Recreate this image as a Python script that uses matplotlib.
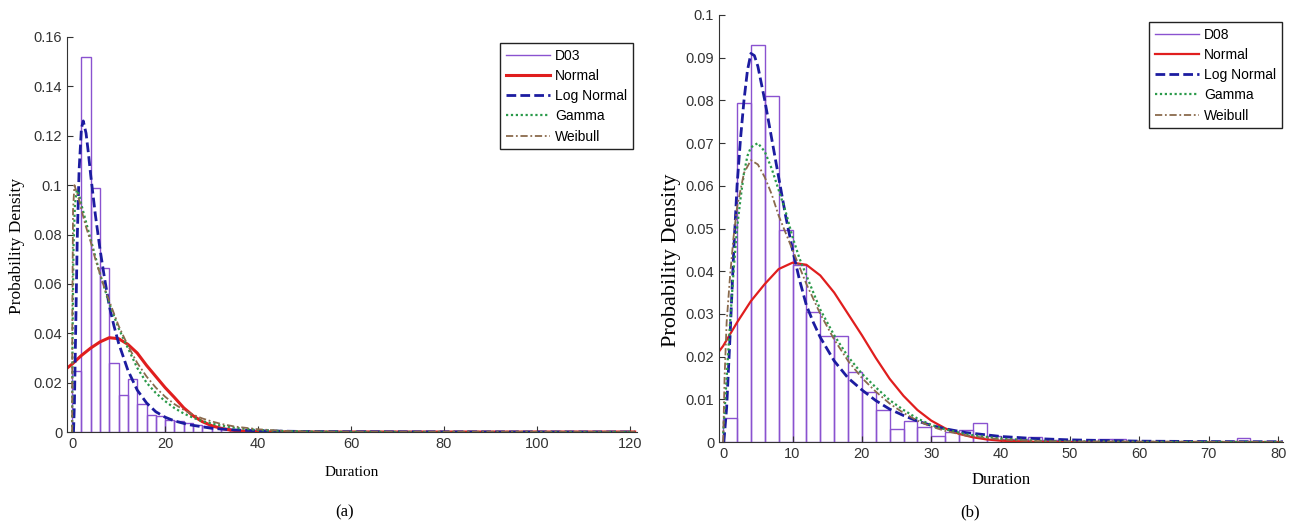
import numpy as np
import matplotlib
matplotlib.use("Agg")
import matplotlib.pyplot as plt

# ---- panel (a) : D03 ----
bin_w = 2.0
hist_a = [0.0247, 0.1518, 0.0987, 0.0663, 0.0278, 0.0150, 0.0215, 0.0112, 0.0070, 0.0066,
          0.0050, 0.0045, 0.0038, 0.0030, 0.0025, 0.0020, 0.0017, 0.0012, 0.0010, 0.0008,
          0.0005, 0.0004, 0.0004, 0.0003, 0.0003, 0.0002, 0.0002, 0.0002, 0.0001, 0.0001,
          0.0001, 0.0005, 0.0005, 0.0001, 0.0001, 0.0001, 0.0, 0.0001, 0.0, 0.0,
          0.0001, 0.0, 0.0, 0.0, 0.0001, 0.0, 0.0, 0.0, 0.0, 0.0001,
          0.0, 0.0, 0.0, 0.0, 0.0, 0.0, 0.0, 0.0, 0.0, 0.0001]

norm_a_x = [-1, 0, 2, 4, 6, 8, 10, 12, 14, 16, 18, 20, 22, 24, 26, 28, 30, 32, 34, 36, 40, 45, 121]
norm_a_y = [0.026, 0.0275, 0.031, 0.034, 0.0365, 0.0382, 0.0378, 0.0355, 0.032, 0.027, 0.0225,
            0.018, 0.014, 0.0098, 0.0066, 0.0042, 0.0026, 0.0015, 0.0008, 0.0004, 0.0001, 0.0, 0.0]

logn_a_x = [0.3, 0.5, 0.8, 1.1, 1.5, 2.0, 2.4, 3.0, 3.5, 4, 5, 6, 7, 8, 9, 10, 12, 14, 16, 18,
            20, 22, 25, 30, 35, 40, 50, 60, 80, 121]
logn_a_y = [0.0, 0.012, 0.045, 0.078, 0.106, 0.123, 0.126, 0.121, 0.113, 0.104, 0.088, 0.074,
            0.062, 0.051, 0.043, 0.036, 0.025, 0.017, 0.0118, 0.0082, 0.006, 0.0045, 0.003,
            0.0015, 0.0008, 0.0005, 0.0002, 0.0001, 0.00005, 0.0]

gam_a_x = [0.0, 0.1, 0.3, 0.6, 1.0, 1.5, 2, 3, 4, 5, 6, 7, 8, 9, 10, 12, 14, 16, 18, 20, 22,
           24, 26, 28, 30, 32, 35, 40, 45, 50, 60, 121]
gam_a_y = [0.0, 0.04, 0.075, 0.092, 0.098, 0.096, 0.092, 0.085, 0.078, 0.071, 0.064, 0.058,
           0.052, 0.047, 0.042, 0.034, 0.026, 0.020, 0.0158, 0.0125, 0.0097, 0.0075, 0.0058,
           0.0044, 0.0034, 0.0026, 0.0017, 0.0008, 0.0004, 0.0002, 0.00005, 0.0]

wei_a_x = [0.0, 0.05, 0.2, 0.5, 1.0, 1.5, 2, 3, 4, 5, 6, 7, 8, 9, 10, 12, 14, 16, 18, 20, 22,
           24, 26, 28, 30, 32, 35, 40, 45, 50, 60, 121]
wei_a_y = [0.0, 0.05, 0.09, 0.1, 0.097, 0.094, 0.090, 0.083, 0.077, 0.070, 0.064, 0.058,
           0.053, 0.048, 0.043, 0.035, 0.028, 0.0225, 0.018, 0.0143, 0.0113, 0.009, 0.007,
           0.0055, 0.0043, 0.0033, 0.0022, 0.0011, 0.0005, 0.0002, 0.00005, 0.0]

# ---- panel (b) : D08 ----
hist_b = [0.0057, 0.0795, 0.0930, 0.0810, 0.0496, 0.0415, 0.0304, 0.0249, 0.0249, 0.0165,
          0.0118, 0.0076, 0.0030, 0.0049, 0.0035, 0.0013, 0.0024, 0.0028, 0.0044, 0.0015,
          0.0008, 0.0006, 0.0012, 0.0005, 0.0004, 0.0003, 0.0003, 0.0006, 0.0007, 0.0002,
          0.0001, 0.0001, 0.0001, 0.0001, 0.0001, 0.0001, 0.0001, 0.0009, 0.0, 0.0]

norm_b_x = [-0.6, 0, 2, 4, 6, 8, 10, 12, 14, 16, 18, 20, 22, 24, 26, 28, 30, 32, 34, 36, 38,
            40, 45, 50, 81]
norm_b_y = [0.0212, 0.0225, 0.028, 0.033, 0.037, 0.0405, 0.042, 0.0415, 0.039, 0.035, 0.030,
            0.025, 0.0197, 0.0148, 0.0108, 0.0075, 0.005, 0.0032, 0.0019, 0.0011, 0.0006,
            0.0003, 0.00005, 0.0, 0.0]

logn_b_x = [0.1, 0.5, 1.0, 1.5, 2.0, 2.5, 3.0, 3.5, 4.0, 4.5, 5, 6, 7, 8, 9, 10, 11, 12, 13,
            14, 16, 18, 20, 22, 24, 26, 28, 30, 32, 35, 40, 45, 50, 60, 70, 81]
logn_b_y = [0.0, 0.008, 0.025, 0.044, 0.060, 0.071, 0.080, 0.087, 0.091, 0.0905, 0.088,
            0.080, 0.071, 0.062, 0.053, 0.045, 0.038, 0.032, 0.028, 0.0245, 0.019, 0.015,
            0.0122, 0.0097, 0.0077, 0.0062, 0.0049, 0.0039, 0.0031, 0.0022, 0.0013, 0.0008,
            0.0005, 0.0002, 0.0001, 0.00005]

gam_b_x = [0.0, 0.5, 1, 1.5, 2, 2.5, 3, 3.5, 4, 5, 6, 7, 8, 9, 10, 11, 12, 14, 16, 18, 20,
           22, 24, 26, 28, 30, 32, 35, 40, 45, 50, 60, 81]
gam_b_y = [0.002, 0.015, 0.028, 0.040, 0.050, 0.057, 0.063, 0.067, 0.069, 0.070, 0.068,
           0.064, 0.059, 0.054, 0.048, 0.043, 0.039, 0.031, 0.025, 0.020, 0.016, 0.0128,
           0.0098, 0.0075, 0.0055, 0.004, 0.003, 0.0018, 0.0008, 0.0003, 0.00015, 0.00003, 0.0]

wei_b_x = [0.0, 0.2, 0.5, 1, 1.5, 2, 3, 4, 5, 6, 7, 8, 9, 10, 11, 12, 14, 16, 18, 20, 22, 24,
           26, 28, 30, 32, 35, 40, 45, 50, 81]
wei_b_y = [0.0, 0.015, 0.028, 0.039, 0.048, 0.055, 0.063, 0.066, 0.065, 0.062, 0.058, 0.053,
           0.049, 0.045, 0.041, 0.037, 0.030, 0.024, 0.019, 0.015, 0.0118, 0.009, 0.0068,
           0.005, 0.0036, 0.0026, 0.0015, 0.0006, 0.0002, 0.0001, 0.0]

purple = "#8a52d0"
c_norm = "#e01e1e"
c_logn = "#1c1ca0"
c_gam = "#2a9a4a"
c_wei = "#8a6a4c"

plt.rcParams["font.family"] = ["Liberation Sans", "DejaVu Sans"]

fig = plt.figure(figsize=(12.93, 5.27), dpi=100)
W, H = 1293.0, 527.0


def make_axes(l, r, t, b):
    return fig.add_axes([l / W, (H - b) / H, (r - l) / W, (b - t) / H])


def draw_panel(ax, hist, name, curves, xlim, ylim, xticks, yticks, ylabels,
               red_lw, xlab_pos, ylab_pos, ylab_size, xlab_size, leg_pos):
    edges = np.arange(len(hist)) * bin_w
    ax.bar(edges, hist, width=bin_w, align="edge", fill=False,
           edgecolor=purple, linewidth=1.0)
    ax.plot([], [], color=purple, lw=1.0, label=name)
    (nx, ny), (lx, ly), (gx, gy), (wx, wy) = curves
    ax.plot(nx, ny, color=c_norm, lw=red_lw, label="Normal")
    ax.plot(lx, ly, color=c_logn, lw=2.0, ls=(0, (3.5, 1.5)), label="Log Normal")
    ax.plot(gx, gy, color=c_gam, lw=1.6, ls=(0, (1, 1.2)), label="Gamma")
    ax.plot(wx, wy, color=c_wei, lw=1.3, ls=(0, (4, 1.5, 1, 1.5)), label="Weibull")
    ax.set_xlim(*xlim)
    ax.set_ylim(*ylim)
    ax.set_xticks(xticks)
    ax.set_yticks(yticks)
    ax.set_yticklabels(ylabels)
    for s in ("top", "right"):
        ax.spines[s].set_visible(False)
    for s in ("left", "bottom"):
        ax.spines[s].set_color("#333333")
    ax.tick_params(direction="in", length=4, colors="#333333", labelsize=10.5)
    ax.set_xlabel("Duration", family="Liberation Serif", fontsize=xlab_size)
    ax.set_ylabel("Probability Density", family="Liberation Serif", fontsize=ylab_size)
    ax.xaxis.set_label_coords(*xlab_pos)
    ax.yaxis.set_label_coords(*ylab_pos)
    leg = ax.legend(loc="upper right", fontsize=10, handlelength=3.2, handletextpad=0.35,
                    borderpad=0.4, labelspacing=0.45, fancybox=False, framealpha=1,
                    edgecolor="#222222", borderaxespad=0, bbox_to_anchor=leg_pos)
    leg.get_frame().set_linewidth(1.0)


ax_a = make_axes(67, 637, 37, 432)
draw_panel(ax_a, hist_a, "D03",
           [(norm_a_x, norm_a_y), (logn_a_x, logn_a_y), (gam_a_x, gam_a_y), (wei_a_x, wei_a_y)],
           (-1.1, 121.5), (0, 0.16), list(range(0, 121, 20)),
           [0, 0.02, 0.04, 0.06, 0.08, 0.1, 0.12, 0.14, 0.16],
           ["0", "0.02", "0.04", "0.06", "0.08", "0.1", "0.12", "0.14", "0.16"],
           2.2, (0.5, -0.085), (-0.074, 0.471), 12.5, 11, (1 - 4 / 570, 1 - 6 / 395))

ax_b = make_axes(719, 1283, 15, 442)
draw_panel(ax_b, hist_b, "D08",
           [(norm_b_x, norm_b_y), (logn_b_x, logn_b_y), (gam_b_x, gam_b_y), (wei_b_x, wei_b_y)],
           (-0.6, 80.7), (0, 0.1), list(range(0, 81, 10)),
           [0, 0.01, 0.02, 0.03, 0.04, 0.05, 0.06, 0.07, 0.08, 0.09, 0.1],
           ["0", "0.01", "0.02", "0.03", "0.04", "0.05", "0.06", "0.07", "0.08", "0.09", "0.1"],
           1.6, (0.5, -0.07), (-0.067, 0.426), 16, 12, (1 - 1 / 564, 1 - 7 / 427))

fig.text(345 / W, 1 - 512 / H, "(a)", family="Liberation Serif", fontsize=12,
         ha="center", va="center")
fig.text(970 / W, 1 - 512 / H, "(b)", family="Liberation Serif", fontsize=12,
         ha="center", va="center")

fig.savefig("out.png", dpi=100)
